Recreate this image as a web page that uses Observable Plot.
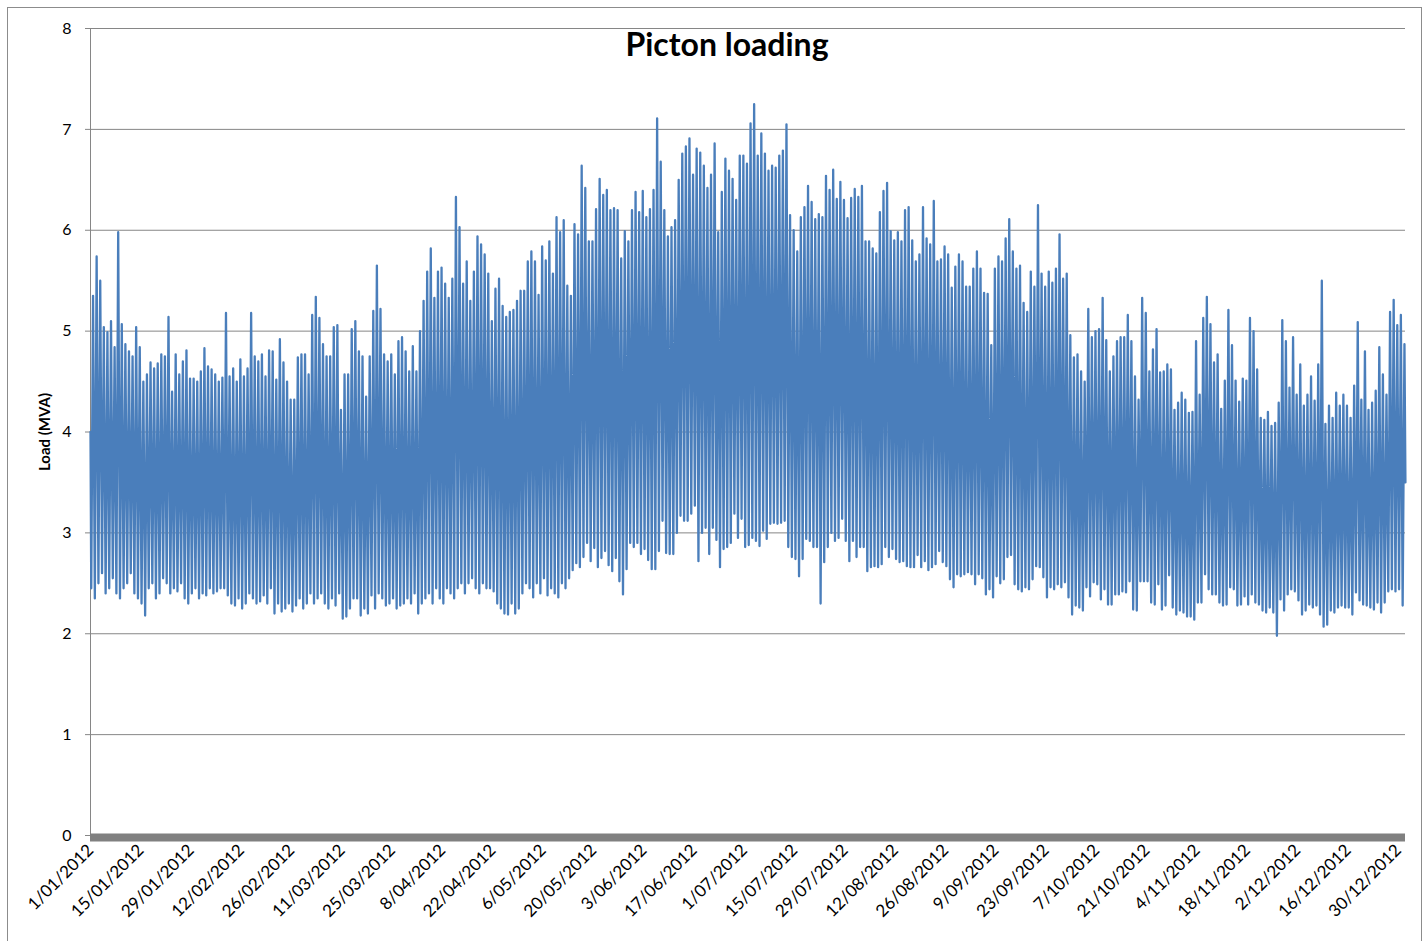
<!DOCTYPE html>
<html>
<head>
<meta charset="utf-8">
<script src="https://cdn.jsdelivr.net/npm/d3@7"></script>
<script src="https://cdn.jsdelivr.net/npm/@observablehq/plot@0.6"></script>
<style>
  html, body { margin: 0; padding: 0; background: #fff; overflow: hidden; }
  #frame { position: absolute; left: 7px; top: 7px; width: 1413px; height: 1000px; border: 1px solid #8c8c8c; pointer-events: none; }
  #chart { position: absolute; left: 0; top: 0; }
</style>
</head>
<body>
<div id="chart"></div>
<div id="frame"></div>
<script>
const title = "Picton loading";
const yLabel = "Load (MVA)";
const yTicks = [0, 1, 2, 3, 4, 5, 6, 7, 8];
const tickLabels = ["1/01/2012","15/01/2012","29/01/2012","12/02/2012","26/02/2012","11/03/2012","25/03/2012","8/04/2012","22/04/2012","6/05/2012","20/05/2012","3/06/2012","17/06/2012","1/07/2012","15/07/2012","29/07/2012","12/08/2012","26/08/2012","9/09/2012","23/09/2012","7/10/2012","21/10/2012","4/11/2012","18/11/2012","2/12/2012","16/12/2012","30/12/2012"];

// Daily peak load (MVA), 1 Jan 2012 .. 31 Dec 2012
const dailyMax = [
5.35,5.74,5.5,5.04,4.99,5.1,4.84,5.98,5.07,4.87,4.8,4.75,5.04,4.84,4.5,4.57,4.69,4.63,4.68,4.77,4.75,5.14,4.4,4.77,4.57,4.7,4.81,4.53,4.53,4.5,4.6,4.83,4.65,4.62,4.57,4.5,4.54,
5.18,4.55,4.63,4.5,4.72,4.55,4.63,5.18,4.75,4.7,4.77,4.55,4.81,4.8,4.52,4.92,4.69,4.5,4.32,4.32,4.74,4.77,4.77,4.57,5.16,5.34,5.13,4.87,4.75,4.75,5.04,5.06,4.22,4.57,4.57,5.02,5.1,
4.8,4.75,4.35,4.75,5.2,5.65,5.22,4.77,4.7,4.77,4.57,4.9,4.94,4.8,4.6,4.85,4.6,5.0,5.3,5.59,5.82,5.33,5.59,5.63,5.47,5.33,5.52,6.33,6.03,5.47,5.69,5.3,5.59,5.94,5.86,5.76,5.57,
5.1,5.42,5.52,5.25,5.14,5.19,5.21,5.3,5.4,5.4,5.69,5.79,5.69,5.36,5.84,5.7,5.89,5.57,6.13,5.98,6.1,5.45,5.35,6.06,5.96,6.64,6.42,5.89,5.89,6.21,6.51,6.35,6.4,6.2,6.22,6.2,
5.72,5.99,5.89,6.2,6.38,6.18,6.39,6.13,6.21,6.4,7.11,6.68,6.2,5.94,6.03,6.1,6.5,6.76,6.83,6.91,6.55,6.81,6.77,6.64,6.42,6.55,6.86,5.98,6.38,6.71,6.59,6.51,6.3,6.74,6.74,6.66,7.06,
7.25,6.74,6.96,6.76,6.59,6.64,6.62,6.74,6.79,7.05,6.15,6.0,5.79,6.13,6.23,6.44,6.28,6.11,6.16,6.13,6.54,6.4,6.6,6.31,6.48,6.3,6.12,6.32,6.41,6.33,6.44,5.89,5.89,5.82,5.77,6.18,6.39,
6.47,5.99,5.9,5.98,5.89,6.2,6.23,5.9,5.69,5.76,6.23,5.92,5.86,6.29,5.69,5.71,5.84,5.76,5.43,5.64,5.76,5.69,5.44,5.44,5.62,5.79,5.62,5.38,5.37,4.86,5.62,5.74,5.69,5.92,6.11,5.79,
5.62,5.65,5.28,5.19,5.59,5.44,6.25,5.57,5.44,5.59,5.48,5.62,5.96,5.52,5.57,4.96,4.74,4.77,4.6,4.5,5.22,4.94,5.0,5.02,5.33,4.91,4.6,4.75,4.9,4.94,4.94,5.16,4.9,4.55,4.32,5.33,5.18,
4.6,4.82,5.02,4.59,4.6,4.67,4.62,4.22,4.29,4.39,4.32,4.19,4.2,4.9,4.37,5.13,5.34,5.07,4.69,4.77,4.23,4.51,5.21,4.86,4.51,4.3,4.53,4.51,5.13,5.0,4.62,4.14,4.12,4.2,4.06,4.09,4.29,
5.11,4.9,4.44,4.94,4.37,4.67,4.26,4.37,4.55,4.31,4.67,5.5,4.08,4.26,4.14,4.39,4.26,4.37,4.26,4.14,4.46,5.09,4.32,4.8,4.22,4.29,4.41,4.84,4.57,4.37,5.19,5.31,5.06,5.16,4.87
];

// Daily minimum load (MVA), same days
const dailyMin = [
2.45,2.35,2.5,2.6,2.4,2.45,2.55,2.4,2.35,2.45,2.5,2.6,2.4,2.35,2.3,2.18,2.45,2.5,2.35,2.4,2.55,2.5,2.4,2.45,2.42,2.5,2.35,2.3,2.4,2.45,2.35,2.4,2.38,2.45,2.4,2.42,2.45,
2.45,2.38,2.3,2.28,2.35,2.25,2.3,2.4,2.35,2.3,2.32,2.38,2.3,2.45,2.2,2.3,2.22,2.25,2.3,2.22,2.28,2.35,2.25,2.3,2.4,2.3,2.35,2.4,2.3,2.25,2.35,2.28,2.4,2.15,2.17,2.25,2.35,
2.35,2.18,2.25,2.2,2.38,2.25,2.4,2.35,2.28,2.3,2.35,2.25,2.28,2.3,2.35,2.3,2.4,2.2,2.3,2.35,2.4,2.3,2.45,2.35,2.3,2.45,2.4,2.35,2.45,2.5,2.4,2.5,2.55,2.45,2.4,2.5,2.45,
2.45,2.42,2.3,2.25,2.2,2.19,2.3,2.2,2.25,2.4,2.5,2.45,2.36,2.5,2.4,2.55,2.38,2.45,2.4,2.36,2.5,2.45,2.55,2.63,2.7,2.66,2.76,2.9,2.72,2.85,2.66,2.75,2.82,2.68,2.62,2.75,
2.52,2.39,2.64,2.9,2.86,2.9,2.79,2.84,2.73,2.64,2.64,2.82,3.12,2.8,2.79,2.79,3.0,3.17,3.12,3.12,3.19,3.27,2.72,3.0,3.05,2.79,3.05,2.93,2.66,2.84,2.86,2.9,3.19,2.95,3.14,2.86,2.88,
2.95,2.92,2.87,3.02,2.94,3.09,3.1,3.09,3.1,3.12,2.86,2.76,2.74,2.57,2.74,2.94,2.92,2.86,2.86,2.3,2.71,2.86,3.0,2.92,2.95,3.14,2.92,2.72,2.92,2.76,2.86,2.86,2.62,2.66,2.67,2.66,2.69,
2.86,2.76,2.84,2.74,2.71,2.72,2.67,2.66,2.66,2.78,2.66,2.72,2.63,2.66,2.69,2.82,2.71,2.67,2.54,2.46,2.59,2.57,2.59,2.61,2.59,2.49,2.59,2.55,2.39,2.44,2.36,2.57,2.5,2.54,2.76,2.78,
2.49,2.44,2.42,2.46,2.44,2.54,2.67,2.66,2.56,2.36,2.46,2.44,2.49,2.46,2.51,2.36,2.19,2.28,2.26,2.23,2.46,2.37,2.51,2.49,2.34,2.44,2.29,2.29,2.39,2.39,2.42,2.41,2.52,2.24,2.23,2.52,2.52,
2.52,2.31,2.29,2.49,2.24,2.28,2.58,2.26,2.19,2.23,2.21,2.17,2.17,2.14,2.31,2.31,2.59,2.44,2.39,2.39,2.31,2.28,2.29,2.46,2.44,2.28,2.29,2.37,2.29,2.39,2.31,2.29,2.23,2.21,2.26,2.21,1.98,
2.34,2.23,2.39,2.44,2.42,2.33,2.19,2.23,2.29,2.26,2.28,2.19,2.07,2.09,2.23,2.21,2.26,2.28,2.26,2.26,2.19,2.41,2.33,2.29,2.28,2.26,2.24,2.31,2.21,2.31,2.42,2.44,2.42,2.44,2.28
];

const firstLoad = 4.0;   // load at 00:00 on 1 Jan
const lastLoad = 3.5;    // load at 23:30 on 31 Dec

// Time series: overnight minimum and evening peak of each day
const at = (d, h) => new Date(Date.UTC(2012, 0, 1 + d, h));
const series = [{t: at(0, 0), v: firstLoad}];
dailyMax.forEach((mx, d) => {
  series.push({t: at(d, 5), v: dailyMin[d]});
  series.push({t: at(d, 17), v: mx});
});
series.push({t: new Date(Date.UTC(2012, 11, 31, 23, 30)), v: lastLoad});

const tickDates = tickLabels.map(s => { const [dd, mm, yy] = s.split("/").map(Number); return new Date(Date.UTC(yy, mm - 1, dd)); });
const labelOf = new Map(tickDates.map((d, i) => [+d, tickLabels[i]]));

const grid = "#868686";
const chart = Plot.plot({
  width: 1426,
  height: 941,
  marginLeft: 90,
  marginRight: 21,
  marginTop: 28,
  marginBottom: 106,
  style: {fontFamily: "Lato, 'Open Sans', sans-serif", fontSize: "16px", color: "#000", background: "transparent"},
  x: {type: "utc", domain: [new Date(Date.UTC(2012, 0, 1)), new Date(Date.UTC(2013, 0, 1))]},
  y: {domain: [0, 8]},
  marks: [
    Plot.gridY(yTicks, {stroke: grid, strokeOpacity: 1, strokeWidth: 1}),
    Plot.ruleX([new Date(Date.UTC(2012, 0, 1))], {stroke: grid, strokeWidth: 1}),
    Plot.axisY(yTicks, {tickSize: 5, tickPadding: 14, stroke: grid, label: null, fontSize: 16, tickFormat: d => String(d)}),
    Plot.line(series, {x: "t", y: "v", stroke: "#4a7ebb", strokeWidth: 2.3}),
    Plot.ruleY([0], {stroke: "#808080", strokeWidth: 8, dy: 2}),
    Plot.axisX(tickDates, {tickSize: 0, tickPadding: 12, tickRotate: -45, tickFormat: d => labelOf.get(+d), fontSize: 17, label: null}),
    Plot.text([yLabel], {frameAnchor: "left", textAnchor: "middle", dx: -45, rotate: -90, fontWeight: "bold", fontSize: 15}),
    Plot.text([title], {frameAnchor: "top", dx: -21, dy: 5, fontWeight: "bold", fontSize: 32})
  ]
});
document.getElementById("chart").appendChild(chart);
</script>
</body>
</html>
